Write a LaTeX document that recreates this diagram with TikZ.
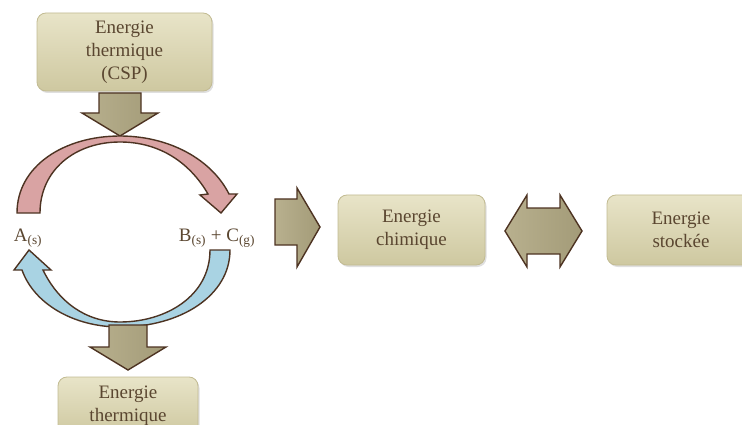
\documentclass[tikz,border=0pt]{standalone}
\usepackage{fontspec}
\setmainfont{Liberation Serif}
\usetikzlibrary{shadows}
\definecolor{boxtop}{HTML}{E8E4C8}
\definecolor{boxbot}{HTML}{CEC8A0}
\definecolor{boxedge}{HTML}{C2BB92}
\definecolor{txtc}{HTML}{5A4630}
\definecolor{arrfill}{HTML}{A39B78}
\definecolor{arrlight}{HTML}{B8B08E}
\definecolor{arredge}{HTML}{4D3322}
\definecolor{redfill}{HTML}{D9A3A3}
\definecolor{bluefill}{HTML}{A9D3E3}
\begin{document}
\begin{tikzpicture}[x=1pt,y=-1pt,
  ebox/.style={rounded corners=9pt, top color=boxtop, bottom color=boxbot,
    draw=boxedge, line width=0.8pt, text=txtc, align=center,
    font=\fontsize{19}{23}\selectfont, inner sep=0pt,
    drop shadow={opacity=0.25, shadow xshift=1.5pt, shadow yshift=-2pt}},
  barrow/.style={left color=arrlight, right color=arrfill, draw=arredge, line width=1.4pt, line join=miter},
  rarc/.style={fill=redfill, draw=arredge, line width=1.4pt, line join=miter},
  barc/.style={fill=bluefill, draw=arredge, line width=1.4pt, line join=miter},
  lbl/.style={text=txtc, font=\fontsize{19}{23}\selectfont, inner sep=0pt}]
\useasboundingbox (0,0) rectangle (742,425);
\clip (0,0) rectangle (742,425);

% boxes
\node[ebox, minimum width=175pt, minimum height=78pt] (top) at (124.5,52) {Energie\\thermique\\(CSP)};
\node[ebox, minimum width=147pt, minimum height=70pt] (chim) at (411.5,230) {Energie\\chimique};
\node[ebox, minimum width=148pt, minimum height=70pt] (stock) at (681,230) {Energie\\stockée};
\node[ebox, minimum width=140pt, minimum height=58pt] (bot) at (128,406) {Energie\\thermique};

% labels
\node[lbl] (A) at (28,238) {A\textsubscript{(s)}};
\node[lbl] (BC) at (217,238) {B\textsubscript{(s)} + C\textsubscript{(g)}};

% top down arrow
\draw[barrow] (99,93) -- (141,93) -- (141,113) -- (158,113) -- (120,136) -- (82,113) -- (99,113) -- cycle;

% red arc (A -> B + C)
\draw[rarc] (17,213) .. controls (17,166) and (64,136) .. (120,136)
  .. controls (170,136) and (212,160) .. (229,194)
  -- (237,194) -- (221,213) -- (200,195) -- (208,194)
  .. controls (190,163) and (160,142) .. (120,142)
  .. controls (75,142) and (40,170) .. (40,213) -- cycle;

% blue arc (B + C -> A)
\draw[barc] (230,250) .. controls (230,296) and (180,327) .. (120,327)
  .. controls (74,327) and (34,304) .. (22,270)
  -- (14,270) -- (29,250) -- (51,270) -- (43,270)
  .. controls (58,301) and (85,322) .. (120,322)
  .. controls (166,322) and (210,296) .. (210,250) -- cycle;

% bottom down arrow
\draw[barrow] (109,325) -- (147,325) -- (147,347) -- (166,347) -- (128,370) -- (90,347) -- (109,347) -- cycle;

% right arrow to chimique
\draw[barrow] (275,199) -- (297,199) -- (297,188) -- (320,227) -- (297,267) -- (297,245) -- (275,245) -- cycle;

% double arrow chimique <-> stockee
\draw[barrow] (505,231) -- (527,195) -- (527,208) -- (560,208) -- (560,195) -- (582,231)
  -- (560,267) -- (560,254) -- (527,254) -- (527,267) -- cycle;
\end{tikzpicture}
\end{document}
